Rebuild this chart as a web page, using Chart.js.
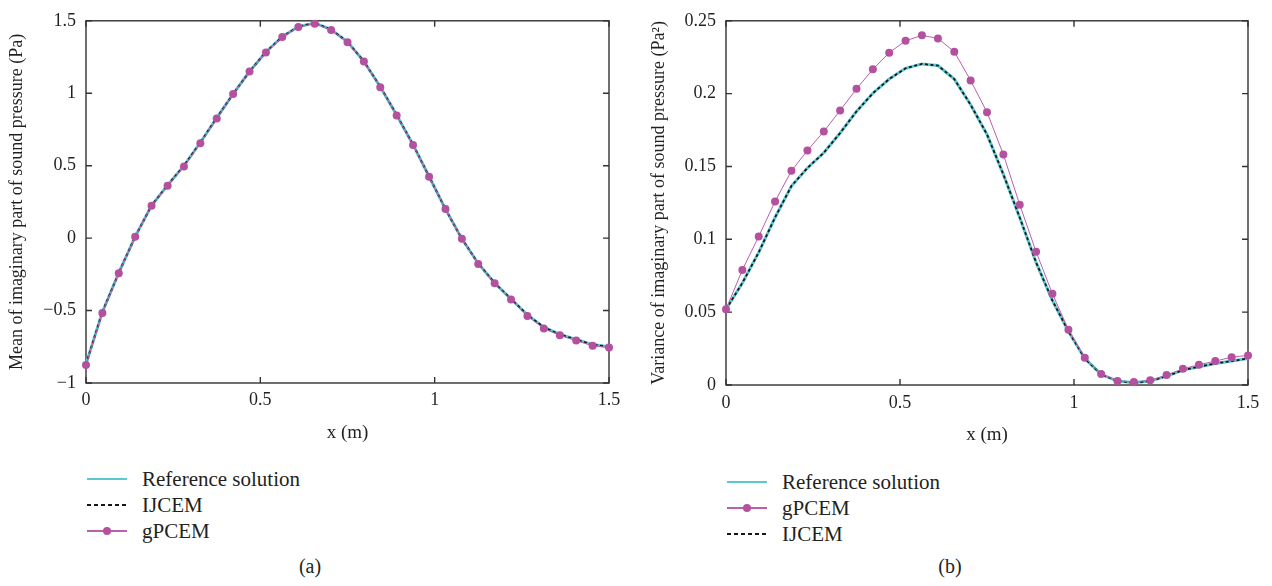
<!DOCTYPE html>
<html>
<head>
<meta charset="utf-8">
<script src="https://cdn.jsdelivr.net/npm/chart.js@4.4.1/dist/chart.umd.min.js"></script>
<style>
  html, body { margin: 0; padding: 0; background: #fff; }
  body { width: 1272px; height: 586px; position: relative; overflow: hidden;
         font-family: "Liberation Serif", "DejaVu Serif", serif; color: #231f20; }
  canvas { position: absolute; top: 0; }
  #chartA { left: 0; }
  #chartB { left: 636px; }
  .legend { position: absolute; font-size: 21px; }
  .legend .row { display: flex; align-items: center; height: 26px; white-space: nowrap; }
  .legend .sample { position: relative; width: 40px; height: 2px; margin-right: 15px; }
  .legend .dot { position: absolute; left: 16px; top: -3px; width: 8px; height: 8px; border-radius: 50%; }
  .caption { position: absolute; top: 555px; font-size: 20px; transform: translateX(-50%); }
</style>
</head>
<body>
<canvas id="chartA" width="636" height="450"></canvas>
<canvas id="chartB" width="636" height="450"></canvas>
<div class="legend" id="legendA" style="left:87px; top:466px;"></div>
<div class="legend" id="legendB" style="left:727px; top:469px;"></div>
<div class="caption" style="left:310px;">(a)</div>
<div class="caption" style="left:950px;">(b)</div>
<script>
// x positions of the computed nodes (m)
const xNodes = [0, 0.047, 0.094, 0.141, 0.188, 0.234, 0.281, 0.328, 0.375, 0.422, 0.469,
  0.516, 0.563, 0.609, 0.656, 0.703, 0.75, 0.797, 0.844, 0.891, 0.938, 0.984,
  1.031, 1.078, 1.125, 1.172, 1.219, 1.266, 1.313, 1.359, 1.406, 1.453, 1.5];

// (a) mean of imaginary part of sound pressure (Pa)
const meanRef = [-0.87, -0.51, -0.24, 0.01, 0.225, 0.365, 0.5, 0.66, 0.83, 0.995, 1.15,
  1.285, 1.39, 1.46, 1.485, 1.44, 1.355, 1.22, 1.045, 0.85, 0.645, 0.425,
  0.2, -0.005, -0.175, -0.31, -0.42, -0.53, -0.615, -0.665, -0.7, -0.735, -0.75];
const meanIjcem = [-0.87, -0.51, -0.24, 0.01, 0.225, 0.365, 0.5, 0.66, 0.83, 0.995, 1.15,
  1.285, 1.39, 1.46, 1.485, 1.44, 1.355, 1.22, 1.045, 0.85, 0.645, 0.425,
  0.2, -0.005, -0.175, -0.31, -0.42, -0.53, -0.615, -0.665, -0.7, -0.735, -0.75];
const meanGpcem = [-0.875, -0.516, -0.242, 0.010, 0.224, 0.362, 0.494, 0.655, 0.826, 0.994, 1.150,
  1.282, 1.389, 1.457, 1.480, 1.437, 1.352, 1.219, 1.042, 0.846, 0.642, 0.424,
  0.201, -0.005, -0.178, -0.312, -0.424, -0.537, -0.623, -0.671, -0.707, -0.743, -0.755];

// (b) variance of imaginary part of sound pressure (Pa^2)
const varRef = [0.052, 0.070, 0.091, 0.115, 0.1366, 0.149, 0.1594, 0.173, 0.1878, 0.2003, 0.210,
  0.2174, 0.2204, 0.2193, 0.210, 0.1924, 0.172, 0.1446, 0.115, 0.0842, 0.058, 0.0369,
  0.0182, 0.0073, 0.0027, 0.0016, 0.0027, 0.0061, 0.0102, 0.0125, 0.0148, 0.0164, 0.0182];
const varIjcem = [0.052, 0.070, 0.091, 0.115, 0.1366, 0.149, 0.1594, 0.173, 0.1878, 0.2003, 0.210,
  0.2174, 0.2204, 0.2193, 0.210, 0.1924, 0.172, 0.1446, 0.115, 0.0842, 0.058, 0.0369,
  0.0182, 0.0073, 0.0027, 0.0016, 0.0027, 0.0061, 0.0102, 0.0125, 0.0148, 0.0164, 0.0182];
const varGpcem = [0.052, 0.079, 0.102, 0.126, 0.147, 0.161, 0.174, 0.1885, 0.2033, 0.2167, 0.2281,
  0.2363, 0.240, 0.2379, 0.2288, 0.209, 0.1872, 0.1583, 0.1238, 0.0915, 0.0626, 0.038,
  0.0187, 0.0075, 0.0027, 0.0020, 0.0032, 0.0068, 0.0111, 0.0139, 0.0164, 0.0191, 0.0203];

const xTicks = [0, 0.5, 1, 1.5];
const meanTicks = [-1, -0.5, 0, 0.5, 1, 1.5];
const varTicks = [0, 0.05, 0.1, 0.15, 0.2, 0.25];

const FONT = '"Liberation Serif", "DejaVu Serif", serif';
const INK = '#231f20';
const CYAN = '#5cc6d3';
const PINK = '#bb5fae';
const DOT = '#b4519f';

function pts(arr) {
  return xNodes.map((x, i) => ({ x: x, y: arr[i] }));
}

function fmt(v) {
  return String(+(+v).toFixed(4)).replace('-', '\u2212');
}

// frame with inward ticks on all four sides
const boxTicks = {
  id: 'boxTicks',
  beforeDatasetsDraw(chart) {
    const { ctx, chartArea: a, scales: { x, y } } = chart;
    ctx.save();
    ctx.strokeStyle = '#333';
    ctx.lineWidth = 1.4;
    ctx.strokeRect(a.left, a.top, a.right - a.left, a.bottom - a.top);
    ctx.beginPath();
    x.ticks.forEach(t => {
      const px = x.getPixelForValue(t.value);
      ctx.moveTo(px, a.bottom); ctx.lineTo(px, a.bottom - 6);
      ctx.moveTo(px, a.top); ctx.lineTo(px, a.top + 6);
    });
    y.ticks.forEach(t => {
      const py = y.getPixelForValue(t.value);
      ctx.moveTo(a.left, py); ctx.lineTo(a.left + 6, py);
      ctx.moveTo(a.right, py); ctx.lineTo(a.right - 6, py);
    });
    ctx.stroke();
    ctx.restore();
  }
};

function makeDatasets(ref, ijcem, gpcem, legendOrder) {
  const sets = {
    ref: {
      label: 'Reference solution', data: pts(ref), borderColor: CYAN, borderWidth: 3,
      pointRadius: 0, order: 3, clip: false
    },
    ijcem: {
      label: 'IJCEM', data: pts(ijcem), borderColor: '#161616', borderWidth: 1.8,
      borderDash: [3, 2.5], pointRadius: 0, order: 2, clip: false
    },
    gpcem: {
      label: 'gPCEM', data: pts(gpcem), borderColor: PINK, borderWidth: 1,
      pointRadius: 4, pointBackgroundColor: DOT, pointBorderColor: DOT, pointBorderWidth: 0,
      order: 1, clip: false
    }
  };
  return legendOrder.map(k => sets[k]);
}

function makeChart(id, datasets, yTicks, yTitle, pad, yWidth, xHeight, yTitlePad, xTickPad, xTitlePad) {
  return new Chart(document.getElementById(id), {
    type: 'line',
    data: { datasets: datasets },
    plugins: [boxTicks],
    options: {
      responsive: false,
      animation: false,
      layout: { padding: pad },
      plugins: { legend: { display: false }, tooltip: { enabled: false } },
      elements: { line: { tension: 0 } },
      scales: {
        x: {
          type: 'linear', min: 0, max: 1.5,
          afterBuildTicks: s => { s.ticks = xTicks.map(v => ({ value: v })); },
          afterFit: s => { s.height = xHeight; },
          grid: { display: false, drawTicks: false },
          border: { display: false },
          ticks: { color: INK, padding: xTickPad, font: { family: FONT, size: 18 }, callback: fmt, maxRotation: 0 },
          title: { display: true, text: 'x (m)', color: INK, padding: { top: 0, bottom: xTitlePad },
                   font: { family: FONT, size: 19 } }
        },
        y: {
          type: 'linear', min: yTicks[0], max: yTicks[yTicks.length - 1],
          afterBuildTicks: s => { s.ticks = yTicks.map(v => ({ value: v })); },
          afterFit: s => { s.width = yWidth; },
          grid: { display: false, drawTicks: false },
          border: { display: false },
          ticks: { color: INK, padding: 10, font: { family: FONT, size: 18 }, callback: fmt },
          title: { display: true, text: yTitle, color: INK, padding: { top: yTitlePad, bottom: 0 },
                   font: { family: FONT, size: 18 } }
        }
      }
    }
  });
}

function buildLegend(elId, chart) {
  const el = document.getElementById(elId);
  chart.data.datasets.forEach(ds => {
    const row = document.createElement('div');
    row.className = 'row';
    const sample = document.createElement('span');
    sample.className = 'sample';
    if (ds.borderDash) {
      sample.style.background = 'repeating-linear-gradient(to right, ' + ds.borderColor +
        ' 0 4px, transparent 4px 7px)';
    } else {
      sample.style.background = ds.borderColor;
    }
    if (ds.pointRadius > 0) {
      const dot = document.createElement('span');
      dot.className = 'dot';
      dot.style.background = ds.pointBackgroundColor;
      sample.appendChild(dot);
    }
    const label = document.createElement('span');
    label.textContent = ds.label;
    row.appendChild(sample);
    row.appendChild(label);
    el.appendChild(row);
  });
}

const chartA = makeChart('chartA', makeDatasets(meanRef, meanIjcem, meanGpcem, ['ref', 'ijcem', 'gpcem']),
  meanTicks, 'Mean of imaginary part of sound pressure (Pa)',
  { left: 0, top: 16, right: 27, bottom: 0 }, 86, 67, 6, 6, 6);

const chartB = makeChart('chartB', makeDatasets(varRef, varIjcem, varGpcem, ['ref', 'gpcem', 'ijcem']),
  varTicks, 'Variance of imaginary part of sound pressure (Pa\u00b2)',
  { left: 0, top: 19, right: 24, bottom: 0 }, 90, 65, 12, 7, 4);

buildLegend('legendA', chartA);
buildLegend('legendB', chartB);
</script>
</body>
</html>
